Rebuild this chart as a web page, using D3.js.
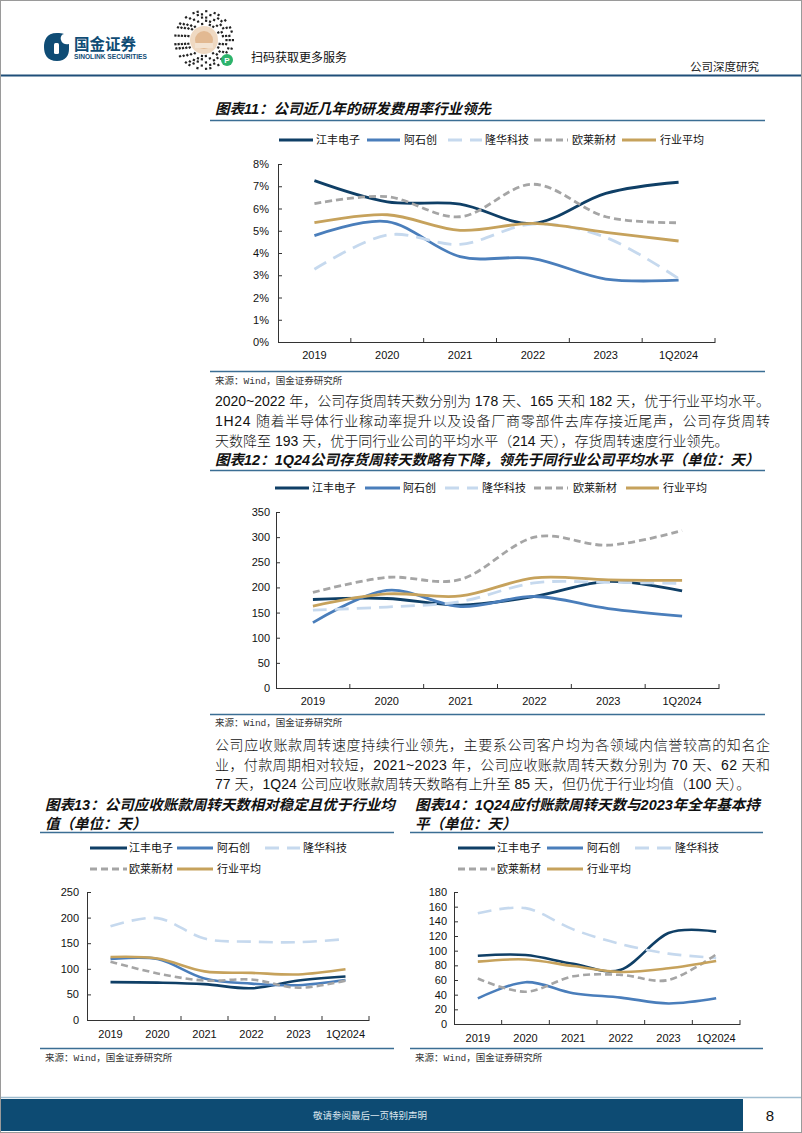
<!DOCTYPE html>
<html><head><meta charset="utf-8">
<script src="https://cdn.jsdelivr.net/npm/d3@7"></script>
<style>
html,body{margin:0;padding:0;background:#fff;}
svg{display:block;}
</style></head><body>
<svg id="page" width="802" height="1133"></svg>
<script>
// ---------------- DATA ----------------
const categories = ["2019", "2020", "2021", "2022", "2023", "1Q2024"];
const seriesNames = ["江丰电子", "阿石创", "隆华科技", "欧莱新材", "行业平均"];

// 图表11 研发费用率 (%)
const rdJiangfeng  = [7.25, 6.30, 6.20, 5.33, 6.68, 7.18];
const rdAshichuang = [4.78, 5.41, 3.84, 3.75, 2.83, 2.78];
const rdLonghua    = [3.27, 4.81, 4.39, 5.30, 4.70, 2.85];
const rdOulai      = [6.22, 6.53, 5.63, 7.09, 5.63, 5.36];
const rdAverage    = [5.36, 5.72, 5.02, 5.33, 4.93, 4.54];
const rdTicks = [0, 1, 2, 3, 4, 5, 6, 7, 8];

// 图表12 存货周转天数
const invJiangfeng  = [176, 178, 165, 182, 212, 193];
const invAshichuang = [130, 194, 162, 182, 158, 143];
const invLonghua    = [155, 161, 172, 209, 210, 208];
const invOulai      = [190, 220, 216, 300, 284, 313];
const invAverage    = [163, 187, 183, 219, 215, 214];
const invTicks = [0, 50, 100, 150, 200, 250, 300, 350];

// 图表13 应收账款周转天数
const arJiangfeng  = [74, 73, 70, 62, 77, 85];
const arAshichuang = [119, 119, 81, 71, 68, 78];
const arLonghua    = [183, 199, 159, 153, 152, 158];
const arOulai      = [114, 91, 77, 79, 63, 77];
const arAverage    = [123, 120, 95, 92, 89, 99];
const arTicks = [0, 50, 100, 150, 200, 250];

// 图表14 应付账款周转天数
const apJiangfeng  = [93, 94, 82, 74, 124, 126];
const apAshichuang = [35, 57, 42, 36, 28, 35];
const apLonghua    = [151, 158, 129, 109, 96, 90];
const apOulai      = [62, 44, 65, 67, 60, 95];
const apAverage    = [85, 88, 79, 71, 76, 86];
const apTicks = [0, 20, 40, 60, 80, 100, 120, 140, 160, 180];

// ---------------- STYLE ----------------
const CJK = "'Liberation Sans', 'Noto Sans CJK SC', sans-serif";
const CJKONLY = "'Noto Sans CJK SC', sans-serif";
const SANS = "'Liberation Sans', Arial, sans-serif";
const styles = [
  {color: "#0f3f66", dash: null},
  {color: "#4a7ebb", dash: null},
  {color: "#c6d9ee", dash: "14,8"},
  {color: "#a5a5a5", dash: "7,4"},
  {color: "#c6a25c", dash: null}
];

const svg = d3.select("#page");
svg.append("rect").attr("x", 0.5).attr("y", 0.5).attr("width", 801).attr("height", 1132)
  .attr("fill", "#fff").attr("stroke", "#9a9a9a");

// ---------------- HEADER ----------------
const hdr = svg.append("g");
hdr.append("path")
  .attr("d", "M57,33 C46,33 44,41 44,47 C44,54 47,61 57,61 C66,61 69,55 69,49 L69,44 C66,45 62,44 61,40 C60,37 62,34 64,34 C62,33 60,33 57,33 Z")
  .attr("fill", "#0f4c75");
hdr.append("rect").attr("x", 54).attr("y", 43).attr("width", 5).attr("height", 11).attr("rx", 1.5).attr("fill", "#fff");
hdr.append("text").attr("x", 74).attr("y", 50).text("国金证券")
  .attr("font-family", CJKONLY).attr("font-weight", 700).attr("font-size", 15.5).attr("fill", "#0f4c75");
hdr.append("text").attr("x", 74).attr("y", 59).text("SINOLINK SECURITIES")
  .attr("font-family", SANS).attr("font-weight", 700).attr("font-size", 6.6).attr("fill", "#0f4c75");

// mini-program code (decorative)
const qr = hdr.append("g").attr("transform", "translate(204,40)");
for (let r = 0; r < 5; r++) {
  const rad = 16 + r * 3.2;
  const n = 26 + r * 4;
  for (let k = 0; k < n; k++) {
    if (((k * 7 + r * 11) % 5) > 1) {
      const a = (k / n) * Math.PI * 2;
      qr.append("rect").attr("x", -1).attr("y", -1).attr("width", 2.2).attr("height", 2.2)
        .attr("fill", "#222")
        .attr("transform", `rotate(${a * 180 / Math.PI}) translate(${rad},0)`);
    }
  }
}
qr.append("circle").attr("r", 14).attr("fill", "#efd9c2");
qr.append("circle").attr("r", 9).attr("fill", "#e2b992");
qr.append("rect").attr("x", -9).attr("y", 3).attr("width", 18).attr("height", 5).attr("fill", "#f3e3d2");
hdr.append("circle").attr("cx", 227).attr("cy", 60).attr("r", 6).attr("fill", "#2db36b");
hdr.append("text").attr("x", 227).attr("y", 63).attr("text-anchor", "middle").text("P")
  .attr("font-family", SANS).attr("font-size", 8).attr("font-weight", 700).attr("fill", "#fff");

hdr.append("text").attr("x", 251).attr("y", 62).text("扫码获取更多服务")
  .attr("font-family", CJKONLY).attr("font-size", 12).attr("fill", "#111");
hdr.append("text").attr("x", 759).attr("y", 71).attr("text-anchor", "end").text("公司深度研究")
  .attr("font-family", CJKONLY).attr("font-size", 11.5).attr("fill", "#222");
hdr.append("line").attr("x1", 1).attr("x2", 801).attr("y1", 75.5).attr("y2", 75.5)
  .attr("stroke", "#1f4e79").attr("stroke-width", 2);

// ---------------- helpers ----------------
function title(x, y, txt) {
  svg.append("text").attr("x", x).attr("y", y).text(txt)
    .attr("font-family", CJK).attr("font-weight", 700).attr("font-style", "italic")
    .attr("font-size", 14.5).attr("fill", "#111");
}
function hline(x1, x2, y, w, c) {
  svg.append("line").attr("x1", x1).attr("x2", x2).attr("y1", y).attr("y2", y)
    .attr("stroke", c || "#3b6e94").attr("stroke-width", w || 1.5);
}
function source(x, y) {
  svg.append("text").attr("x", x).attr("y", y).text("来源：Wind，国金证券研究所")
    .attr("font-family", "'Liberation Mono', 'Noto Sans CJK SC', monospace").attr("font-size", 9.5).attr("fill", "#333");
}
function para(x, y, lines, lh, width) {
  lines.forEach((ln, i) => {
    const t = svg.append("text").attr("x", x).attr("y", y + i * lh).text(ln.t)
      .attr("font-family", CJK).attr("font-size", 14).attr("font-weight", 300).attr("fill", "#111");
    if (ln.j) t.attr("textLength", width).attr("lengthAdjust", "spacing");
  });
}
function legend(items, y) {
  items.forEach(it => {
    const st = styles[it.s];
    svg.append("line").attr("x1", it.a).attr("x2", it.b).attr("y1", it.y || y).attr("y2", it.y || y)
      .attr("stroke", st.color).attr("stroke-width", 3)
      .attr("stroke-dasharray", st.dash ? it.dash || st.dash : null);
    svg.append("text").attr("x", it.t).attr("y", (it.y || y) + 4).text(seriesNames[it.s])
      .attr("font-family", CJKONLY).attr("font-size", 11).attr("fill", "#111");
  });
}
function chart(cfg, data) {
  const g = svg.append("g");
  const x = d3.scaleBand().domain(categories).range([cfg.xL, cfg.xR]).padding(0);
  const y = d3.scaleLinear().domain([0, cfg.max]).range([cfg.yB, cfg.yT]);
  const ya = d3.axisLeft(y).tickValues(cfg.ticks).tickSizeInner(-4).tickSizeOuter(0)
    .tickPadding(cfg.ypad).tickFormat(cfg.fmt);
  const gy = g.append("g").attr("transform", `translate(${cfg.xL},0)`).call(ya);
  const xa = d3.axisBottom(x).tickSize(0).tickPadding(cfg.xpad);
  const gx = g.append("g").attr("transform", `translate(0,${cfg.yB})`).call(xa);
  [gy, gx].forEach(a => {
    a.selectAll("text").attr("font-family", SANS).attr("font-size", 11).attr("fill", "#111");
    a.selectAll("path,line").attr("stroke", "#333");
    a.select(".domain").attr("stroke-width", 1);
  });
  const bounds = categories.map(c => x(c)).slice(1).concat([cfg.xR]);
  g.selectAll(".bt").data(bounds).join("line")
    .attr("x1", d => d).attr("x2", d => d).attr("y1", cfg.yB).attr("y2", cfg.yB - 4)
    .attr("stroke", "#333");
  const line = d3.line()
    .x((d, i) => x(categories[i]) + x.bandwidth() / 2)
    .y(d => y(d))
    .curve(d3.curveCatmullRom.alpha(0));
  data.forEach((vals, i) => {
    g.append("path").attr("d", line(vals)).attr("fill", "none")
      .attr("stroke", styles[i].color).attr("stroke-width", cfg.lw || 2.8)
      .attr("stroke-dasharray", styles[i].dash).attr("stroke-linejoin", "round");
  });
}

// ---------------- 图表11 ----------------
title(215, 114, "图表11：公司近几年的研发费用率行业领先");
hline(210, 765, 120.5);
legend([
  {s: 0, a: 279, b: 313, t: 316},
  {s: 1, a: 367, b: 400, t: 404},
  {s: 2, a: 448, b: 482, t: 485},
  {s: 3, a: 534, b: 568, t: 572},
  {s: 4, a: 622, b: 656, t: 660}
], 140);
chart({xL: 278, xR: 715, yT: 164, yB: 342, max: 8, ticks: rdTicks, fmt: d => d + "%", ypad: 9, xpad: 9},
  [rdJiangfeng, rdAshichuang, rdLonghua, rdOulai, rdAverage]);
hline(210, 765, 371.5);
source(215, 384);

para(215, 406, [
  {t: "2020~2022 年，公司存货周转天数分别为 178 天、165 天和 182 天，优于行业平均水平。", j: true},
  {t: "1H24 随着半导体行业稼动率提升以及设备厂商零部件去库存接近尾声，公司存货周转", j: true},
  {t: "天数降至 193 天，优于同行业公司的平均水平（214 天），存货周转速度行业领先。", j: false}
], 20, 555);

// ---------------- 图表12 ----------------
title(215, 465, "图表12：1Q24公司存货周转天数略有下降，领先于同行业公司平均水平（单位：天）");
hline(210, 765, 470.5);
legend([
  {s: 0, a: 275, b: 309, t: 312},
  {s: 1, a: 365, b: 400, t: 403},
  {s: 2, a: 445, b: 478, t: 482},
  {s: 3, a: 534, b: 568, t: 573},
  {s: 4, a: 626, b: 659, t: 663}
], 488);
chart({xL: 276, xR: 719, yT: 512, yB: 688, max: 350, ticks: invTicks, fmt: d => d, ypad: 6, xpad: 9},
  [invJiangfeng, invAshichuang, invLonghua, invOulai, invAverage]);
hline(210, 765, 714.5);
source(215, 726);

para(215, 750, [
  {t: "公司应收账款周转速度持续行业领先，主要系公司客户均为各领域内信誉较高的知名企", j: true},
  {t: "业，付款周期相对较短，2021~2023 年，公司应收账款周转天数分别为 70 天、62 天和", j: true},
  {t: "77 天，1Q24 公司应收账款周转天数略有上升至 85 天，但仍优于行业均值（100 天）。", j: false}
], 19.5, 555);

// ---------------- 图表13 ----------------
title(45, 810, "图表13：公司应收账款周转天数相对稳定且优于行业均");
title(45, 829, "值（单位：天）");
hline(40, 394, 832.5);
legend([
  {s: 0, a: 90, b: 127, t: 129, y: 848},
  {s: 1, a: 177, b: 213, t: 217, y: 848},
  {s: 2, a: 265, b: 300, t: 303, y: 848},
  {s: 3, a: 90, b: 127, t: 129, y: 869},
  {s: 4, a: 177, b: 213, t: 217, y: 869}
]);
chart({xL: 87, xR: 369, yT: 892, yB: 1020, max: 250, ticks: arTicks, fmt: d => d, ypad: 8, xpad: 10, lw: 2.6},
  [arJiangfeng, arAshichuang, arLonghua, arOulai, arAverage]);

// ---------------- 图表14 ----------------
title(415, 810, "图表14：1Q24应付账款周转天数与2023年全年基本持");
title(415, 829, "平（单位：天）");
hline(410, 763, 832.5);
legend([
  {s: 0, a: 458, b: 495, t: 497, y: 848},
  {s: 1, a: 547, b: 583, t: 587, y: 848},
  {s: 2, a: 635, b: 672, t: 675, y: 848},
  {s: 3, a: 458, b: 495, t: 497, y: 869},
  {s: 4, a: 547, b: 583, t: 587, y: 869}
]);
chart({xL: 454, xR: 740, yT: 892, yB: 1024, max: 180, ticks: apTicks, fmt: d => d, ypad: 7, xpad: 10, lw: 2.6},
  [apJiangfeng, apAshichuang, apLonghua, apOulai, apAverage]);

hline(40, 394, 1048.5);
hline(410, 763, 1048.5);
source(45, 1061);
source(415, 1061);

// ---------------- FOOTER ----------------
svg.append("line").attr("x1", 1).attr("x2", 801).attr("y1", 1097.5).attr("y2", 1097.5)
  .attr("stroke", "#9fbdd0").attr("stroke-width", 1.5);
svg.append("rect").attr("x", 1).attr("y", 1099).attr("width", 742).attr("height", 32).attr("fill", "#0d4b73");
svg.append("text").attr("x", 370).attr("y", 1119).attr("text-anchor", "middle").text("敬请参阅最后一页特别声明")
  .attr("font-family", CJKONLY).attr("font-size", 9.5).attr("fill", "#dbe6ee");
svg.append("text").attr("x", 770).attr("y", 1121).attr("text-anchor", "middle").text("8")
  .attr("font-family", SANS).attr("font-size", 15).attr("fill", "#111");
</script>
</body></html>
